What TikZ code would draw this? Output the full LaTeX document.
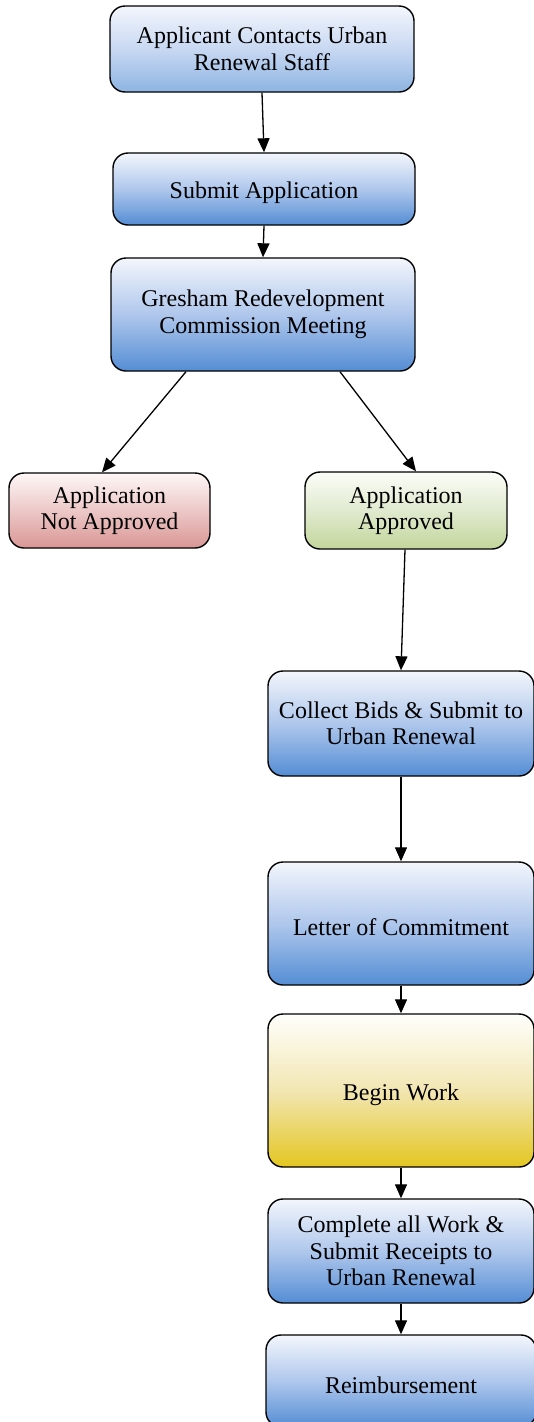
\documentclass[tikz,border=0pt]{standalone}
\usepackage{fontspec}
\setmainfont{Liberation Serif}
\usetikzlibrary{arrows.meta,calc}
\definecolor{blueT}{RGB}{243,246,252}
\definecolor{blueM}{RGB}{175,199,236}
\definecolor{blueB}{RGB}{84,141,212}
\definecolor{blueB1}{RGB}{141,180,226}
\definecolor{blueM1}{RGB}{200,216,242}
\definecolor{redT}{RGB}{254,247,247}
\definecolor{redM}{RGB}{236,200,199}
\definecolor{redB}{RGB}{217,150,148}
\definecolor{grnT}{RGB}{251,253,248}
\definecolor{grnM}{RGB}{224,234,207}
\definecolor{grnB}{RGB}{195,214,155}
\definecolor{ylwT}{RGB}{255,255,252}
\definecolor{ylwM}{RGB}{242,230,178}
\definecolor{ylwB}{RGB}{227,198,32}
\tikzset{
  boxbase/.style={draw=black, line width=1.4pt, rounded corners=15pt, align=center,
    font=\fontsize{24}{26.5}\selectfont, inner sep=0pt,
    execute at begin node={\rule{0pt}{25pt}}},
  bluebox/.style={boxbase, top color=blueT, bottom color=blueB, middle color=blueM},
  lightbluebox/.style={boxbase, top color=blueT, bottom color=blueB1, middle color=blueM1},
  redbox/.style={boxbase, top color=redT, bottom color=redB, middle color=redM},
  greenbox/.style={boxbase, top color=grnT, bottom color=grnB, middle color=grnM},
  yellowbox/.style={boxbase, top color=ylwT, bottom color=ylwB, middle color=ylwM},
  arr/.style={line width=1.3pt, -{Triangle[width=12pt,length=14pt]}}
}
\begin{document}
\begin{tikzpicture}[x=1pt,y=-1pt]
\useasboundingbox (0,0) rectangle (533,1422);
\node[lightbluebox, minimum width=304pt, minimum height=86pt] (b1) at (262,49) {Applicant Contacts Urban\\Renewal Staff};
\node[bluebox, minimum width=302pt, minimum height=72pt] (b2) at (264,189) {Submit Application};
\node[bluebox, minimum width=304pt, minimum height=113pt] (b3) at (263,314.5) {Gresham Redevelopment\\Commission Meeting};
\node[redbox, minimum width=201pt, minimum height=75pt] (na) at (109.5,510.5) {Application\\Not Approved};
\node[greenbox, minimum width=202pt, minimum height=77pt] (ap) at (406,510.5) {Application\\Approved};
\node[bluebox, minimum width=266pt, minimum height=105pt] (cb) at (401,723.5) {Collect Bids \& Submit to\\Urban Renewal};
\node[bluebox, minimum width=266pt, minimum height=123pt] (lc) at (401,923.5) {Letter of Commitment};
\node[yellowbox, minimum width=266pt, minimum height=153pt] (bw) at (401,1090.5) {Begin Work};
\node[bluebox, minimum width=266pt, minimum height=104pt] (cw) at (401,1251) {Complete all Work \&\\Submit Receipts to\\Urban Renewal};
\node[bluebox, minimum width=270pt, minimum height=92pt] (rb) at (401,1381) {Reimbursement};
\draw[arr] (b1.south) -- (b2.north);
\draw[arr] (b2.south) -- (b3.north);
\draw[arr] ($(b3.south)+(-77,0)$) -- ($(na.north)+(-7.5,0)$);
\draw[arr] ($(b3.south)+(77,0)$) -- ($(ap.north)+(10,0)$);
\draw[arr] ($(ap.south)+(-1,0)$) -- (cb.north);
\draw[arr] (cb.south) -- (lc.north);
\draw[arr] (lc.south) -- (bw.north);
\draw[arr] (bw.south) -- (cw.north);
\draw[arr] (cw.south) -- (rb.north);
\end{tikzpicture}
\end{document}
